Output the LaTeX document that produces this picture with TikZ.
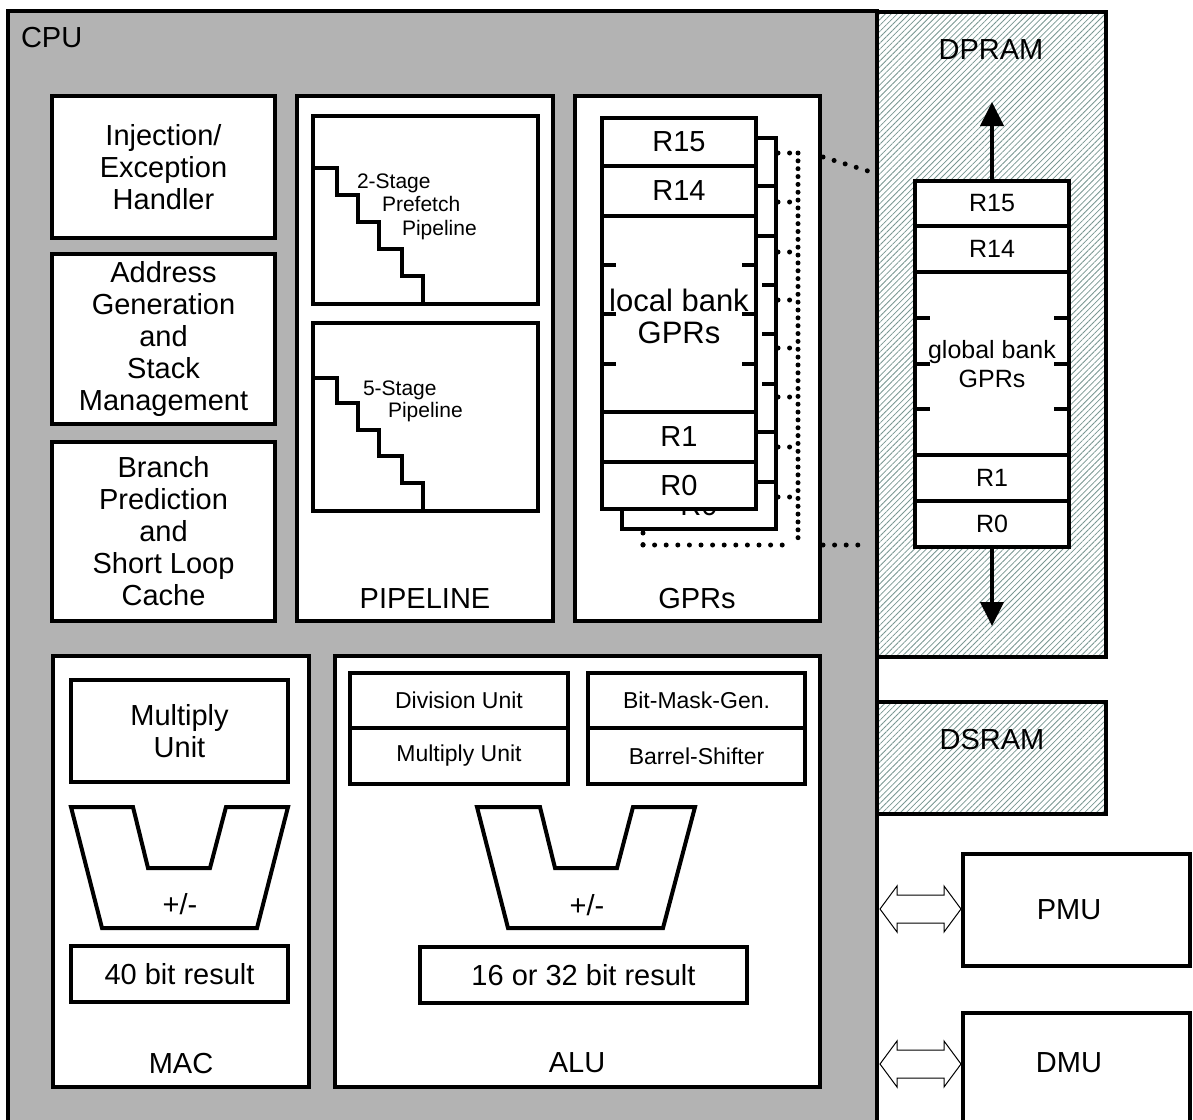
\documentclass[tikz,border=0pt]{standalone}
\usepackage{fontspec}
\setmainfont{Liberation Sans}
\usetikzlibrary{arrows.meta,patterns.meta,fit}
\definecolor{cpugray}{RGB}{179,179,179}
\definecolor{hatchcol}{RGB}{120,150,145}
\begin{document}
\begin{tikzpicture}[x=1pt,y=-1pt,line join=miter,
  box/.style={draw,line width=4pt,fill=white,inner sep=0pt,outer sep=0pt},
  hbox/.style={draw,line width=4pt,inner sep=0pt,outer sep=0pt,preaction={fill=white},pattern={Lines[angle=45,distance=4.2pt,line width=0.8pt]},pattern color=hatchcol},
  big/.style={font=\fontsize{29}{32}\selectfont,align=center},
  midf/.style={font=\fontsize{23}{26}\selectfont,align=center},
  glb/.style={font=\fontsize{25}{29}\selectfont,align=center},
  sml/.style={font=\fontsize{21}{23}\selectfont,inner sep=0pt,outer sep=0pt},
  txt/.style={inner sep=0pt,outer sep=0pt},
  regl/.style={box,big,minimum width=154pt},
  regg/.style={box,glb,minimum width=154pt},
  dotline/.style={line width=5pt,line cap=round,dash pattern=on 0pt off 11.6pt},
  densedot/.style={line width=5pt,line cap=round,dash pattern=on 0pt off 7.85pt},
  stair/.style={line width=4pt},
  thickline/.style={line width=4pt},
  hollow/.style={draw,line width=1pt,fill=white,line join=miter}
]
\path[use as bounding box] (0,0) rectangle (1193,1119);
\clip (0,0) rectangle (1193,1119);
\fill[white] (0,0) rectangle (1193,1119);

% CPU frame
\node[box,fill=cpugray,fit={(8,11) (877,1135)}] (cpu) {};
\node[txt,big,anchor=base west] (cpulbl) at (21,47) {CPU};

% memories and peripherals
\node[hbox,fit={(877,12) (1106,657)}] (dpram) {};
\node[txt,big] (dpramlbl) at (991,50) {DPRAM};
\node[hbox,fit={(877,702) (1106,814)}] (dsram) {};
\node[txt,big] (dsramlbl) at (992,740) {DSRAM};
\node[box,fit={(963,854) (1190,966)}] (pmu) {};
\node[txt,big] (pmulbl) at (1069,910) {PMU};
\node[box,fit={(963,1013) (1190,1140)}] (dmu) {};
\node[txt,big] (dmulbl) at (1069,1063) {DMU};

% left column
\node[box,fit={(52,96) (275,238)}] (inj) {};
\node[txt,big] (injlbl) at (inj.center) {Injection/\\Exception\\Handler};
\node[box,fit={(52,254) (275,424)}] (agu) {};
\node[txt,big] (agulbl) at (agu.center) {Address\\Generation\\and\\Stack\\Management};
\node[box,fit={(52,442) (275,621)}] (bpu) {};
\node[txt,big] (bpulbl) at (bpu.center) {Branch\\Prediction\\and\\Short Loop\\Cache};

% pipeline
\node[box,fit={(297,96) (553,621)}] (pipe) {};
\node[box,fit={(313,116) (538,304)}] (pf) {};
\draw[stair] (313,168) -| (337,195) -| (358,222) -| (379,249) -| (402,276) -| (423,304);
\node[sml,anchor=base west] (pf1) at (357,188) {2-Stage};
\node[sml,anchor=base west] (pf2) at (382,211) {Prefetch};
\node[sml,anchor=base west] (pf3) at (402,235) {Pipeline};
\node[box,fit={(313,323) (538,511)}] (fs) {};
\draw[stair] (313,378) -| (337,403) -| (358,430) -| (379,456) -| (402,483) -| (423,511);
\node[sml,anchor=base west] (fs1) at (363,395) {5-Stage};
\node[sml,anchor=base west] (fs2) at (388,417) {Pipeline};
\node[txt,big] (pipelbl) at (425,599) {PIPELINE};

% GPRs
\node[box,fit={(575,96) (820,621)}] (gprs) {};
\node[txt,big] (gprslbl) at (697,599) {GPRs};

% back local bank (shifted copy, mostly hidden)
\node[regl,minimum height=48pt] (bk15) at (699,162) {};
\node[regl,minimum height=50pt] (bk14) at (699,211) {};
\node[regl,minimum height=196pt] (bkmid) at (699,334) {};
\node[regl,minimum height=50pt] (bk1) at (699,457) {};
\node[regl,minimum height=47pt] (bk0) at (699,505.5) {R0};
\foreach \d in {49,98,148}{
  \draw[thickline] (bkmid.north west) ++(0,\d) -- ++(14,0);
  \draw[thickline] (bkmid.north east) ++(0,\d) -- ++(-14,0);
}
% front local bank
\node[regl,minimum height=48pt] (fr15) at (679,142) {R15};
\node[regl,minimum height=50pt] (fr14) at (679,191) {R14};
\node[regl,minimum height=196pt] (frmid) at (679,314) {};
\node[txt,font=\fontsize{31}{32}\selectfont,align=center] (frmidlbl) at (679,316) {local bank\\GPRs};
\node[regl,minimum height=50pt] (fr1) at (679,437) {R1};
\node[regl,minimum height=47pt] (fr0) at (679,485.5) {R0};
\foreach \d in {49,98,148}{
  \draw[thickline] (frmid.north west) ++(0,\d) -- ++(14,0);
  \draw[thickline] (frmid.north east) ++(0,\d) -- ++(-14,0);
}

% dotted bus
\coordinate (dtop) at (798,153);
\coordinate (dbot) at (798,545);
\coordinate (dleft) at (643,545);
\draw[densedot] (dtop) -- (dbot);
\draw[dotline] (dleft) -- (787,545);
\draw[dotline] (643,533) -- (dleft);
\foreach \y in {153,202,252,300,348,397,447,497}{
  \draw[dotline] (778,\y) -- (798,\y);
}
\coordinate (dp1a) at (823,157);
\coordinate (dp1b) at (868,171);
\coordinate (dp2a) at (823,545);
\coordinate (dp2b) at (868,545);
\draw[dotline] (dp1a) -- (dp1b);
\draw[dotline] (dp2a) -- (dp2b);

% global bank
\node[regg,minimum height=45pt] (gr15) at (992,203.5) {R15};
\node[regg,minimum height=46pt] (gr14) at (992,249) {R14};
\node[regg,minimum height=183pt] (grmid) at (992,363.5) {};
\node[txt,glb] (grmidlbl) at (992,364) {global bank\\GPRs};
\node[regg,minimum height=46pt] (gr1) at (992,478) {R1};
\node[regg,minimum height=46pt] (gr0) at (992,524) {R0};
\foreach \d in {46,92,137}{
  \draw[thickline] (grmid.north west) ++(0,\d) -- ++(15,0);
  \draw[thickline] (grmid.north east) ++(0,\d) -- ++(-15,0);
}
\coordinate (uptip) at (992,102);
\coordinate (dntip) at (992,626);
\draw[thickline,-{Triangle[length=24pt,width=23pt]}] (gr15.north) -- (uptip);
\draw[thickline,-{Triangle[length=24pt,width=23pt]}] (gr0.south) -- (dntip);

% MAC
\node[box,fit={(53,656) (309,1087)}] (mac) {};
\node[box,fit={(71,680) (288,782)}] (macmul) {};
\node[txt,big] (macmullbl) at (macmul.center) {Multiply\\Unit};
\draw[thickline,fill=white] (71,807) -- (133,807) -- (148,868) -- (210,868) -- (226,807) -- (288,807) -- (257,928) -- (102,928) -- cycle;
\node[txt,big] (macpm) at (180,904) {+/-};
\node[box,fit={(71,946) (288,1002)}] (macres) {};
\node[txt,big] (macreslbl) at (macres.center) {40 bit result};
\node[txt,big] (maclbl) at (181,1063) {MAC};

% ALU
\node[box,fit={(335,656) (820,1087)}] (alu) {};
\node[box,fit={(350,673) (568,728)}] (div) {};
\node[txt,midf] (divlbl) at (div.center) {Division Unit};
\node[box,fit={(350,728) (568,784)}] (mul) {};
\node[txt,midf] (mullbl) at (mul.center) {Multiply Unit};
\node[box,fit={(588,673) (805,728)}] (bmg) {};
\node[txt,midf] (bmglbl) at (bmg.center) {Bit-Mask-Gen.};
\node[box,fit={(588,728) (805,784)}] (bsh) {};
\node[txt,midf] (bshlbl) at (bsh.center) {Barrel-Shifter};
\draw[thickline,fill=white] (477,807) -- (540,807) -- (555,868) -- (617,868) -- (633,807) -- (695,807) -- (663,928) -- (508,928) -- cycle;
\node[txt,big] (alupm) at (587,905) {+/-};
\node[box,fit={(420,947) (747,1003)}] (alures) {};
\node[txt,big] (alureslbl) at (alures.center) {16 or 32 bit result};
\node[txt,big] (alulbl) at (577,1063) {ALU};

% hollow double arrows
\coordinate (pa) at (880,909);
\draw[hollow] (pa) -- ++(17,-23) -- ++(0,9) -- ++(47,0) -- ++(0,-9) -- ++(17,23) -- ++(-17,23) -- ++(0,-9) -- ++(-47,0) -- ++(0,9) -- cycle;
\coordinate (da) at (880,1064);
\draw[hollow] (da) -- ++(17,-23) -- ++(0,9) -- ++(47,0) -- ++(0,-9) -- ++(17,23) -- ++(-17,23) -- ++(0,-9) -- ++(-47,0) -- ++(0,9) -- cycle;
\end{tikzpicture}
\end{document}
